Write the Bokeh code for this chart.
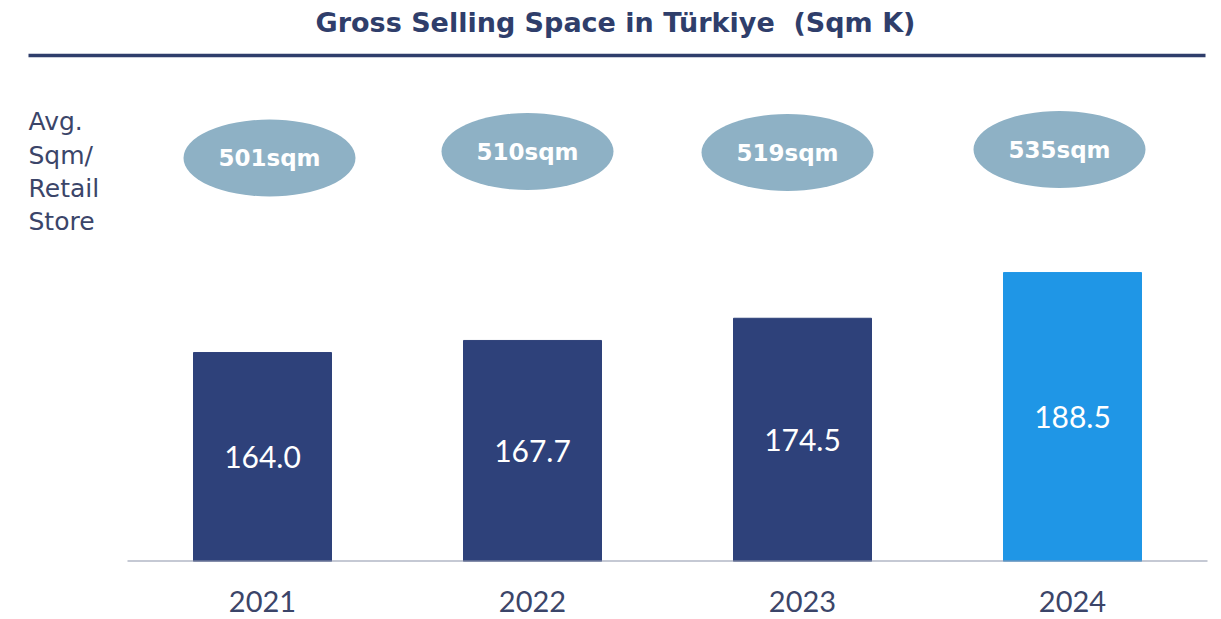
from bokeh.plotting import figure
from bokeh.models import Range1d, FixedTicker, ColumnDataSource
from bokeh.core.properties import value
from bokeh.embed import file_html
from bokeh.resources import INLINE

# ---- data ----
years = ["2021", "2022", "2023", "2024"]
space_k = [164.0, 167.7, 174.5, 188.5]
avg_sqm = ["501sqm", "510sqm", "519sqm", "535sqm"]
title_text = "Gross Selling Space in Türkiye  (Sqm K)"
side_lines = ["Avg.", "Sqm/", "Retail", "Store"]

# ---- layout constants ----
FIG_W, FIG_H = 1213, 619
BASE_Y = 561                # pixel row of the baseline
BOTTOM = FIG_H - BASE_Y
PX_X = 270.0                # px per category
K = 3.265                   # px per unit (Sqm K)
Y0 = 100.0
X0 = -0.5 - 127 / PX_X
X1 = X0 + FIG_W / PX_X
Y1 = Y0 + BASE_Y / K


def px2x(sx):
    return X0 + sx / PX_X


def px2y(sy):
    return Y0 + (BASE_Y - sy) / K


NAVY = "#2F3E6B"
BAR_DARK = "#2E417A"
BAR_LIGHT = "#1F96E6"
BUBBLE = "#8EB1C5"
TEXT_NAVY = "#3B4569"
FONT = value("Lato")
BOLD_FONT = value("DejaVu Sans")

p = figure(width=FIG_W, height=FIG_H, output_backend="svg", toolbar_location=None,
           x_range=Range1d(X0, X1), y_range=Range1d(Y0, Y1),
           min_border_left=0, min_border_right=0, min_border_top=0,
           min_border_bottom=BOTTOM, y_axis_location=None)
p.outline_line_color = None
p.xgrid.visible = False
p.ygrid.visible = False
p.background_fill_color = "white"
p.border_fill_color = "white"

idx = list(range(len(years)))
colors = [BAR_DARK] * (len(years) - 1) + [BAR_LIGHT]
src = ColumnDataSource(dict(x=idx, top=space_k, color=colors,
                            mid=[(v + Y0) / 2 for v in space_k],
                            lab=[f"{v:.1f}" for v in space_k]))
p.vbar(x="x", top="top", bottom=Y0, width=138 / PX_X, color="color", source=src)
p.text(x="x", y="mid", text="lab", source=src, text_align="center",
       text_baseline="middle", text_color="white", text_font=FONT,
       text_font_size="30px")

# baseline
p.segment(x0=[-0.5], x1=[len(years) - 0.5], y0=[Y0], y1=[Y0],
          line_color="#8C94A9", line_width=2)

# x axis
ax = p.xaxis[0]
ax.ticker = FixedTicker(ticks=idx)
ax.major_label_overrides = {i: y for i, y in zip(idx, years)}
ax.axis_line_color = None
ax.major_tick_line_color = None
ax.minor_tick_line_color = None
ax.major_tick_out = 0
ax.major_tick_in = 0
ax.major_label_standoff = 29
ax.major_label_text_font = "Lato"
ax.major_label_text_font_size = "29px"
ax.major_label_text_color = TEXT_NAVY

# bubbles
bubble_sx = [269, 527, 787, 1059]
bubble_sy = [157.5, 151, 152, 149]
bsrc = ColumnDataSource(dict(x=[px2x(s) for s in bubble_sx],
                             y=[px2y(s) for s in bubble_sy], t=avg_sqm))
p.ellipse(x="x", y="y", width=172, height=77, width_units="screen",
          height_units="screen", fill_color=BUBBLE, line_color=None, source=bsrc)
p.text(x="x", y="y", text="t", source=bsrc, text_align="center",
       text_baseline="middle", text_color="white", text_font=BOLD_FONT,
       text_font_style="bold", text_font_size="23px")

# side text
side_sy = [121, 155, 188, 221]
p.text(x=[px2x(28)] * len(side_lines), y=[px2y(s) for s in side_sy],
       text=side_lines, text_align="left", text_baseline="middle",
       text_color=TEXT_NAVY, text_font=value("DejaVu Sans"), text_font_size="25px")

# title and rule
p.text(x=[px2x(615)], y=[px2y(22)], text=[title_text.replace("  ", " \u00a0")],
       text_align="center", text_baseline="middle", text_color=NAVY,
       text_font=BOLD_FONT, text_font_style="bold", text_font_size="27px")
p.segment(x0=[px2x(28)], x1=[px2x(1205)], y0=[px2y(55)], y1=[px2y(55)],
          line_color=NAVY, line_width=3.5)

open("out.html", "w").write(file_html(p, INLINE))
